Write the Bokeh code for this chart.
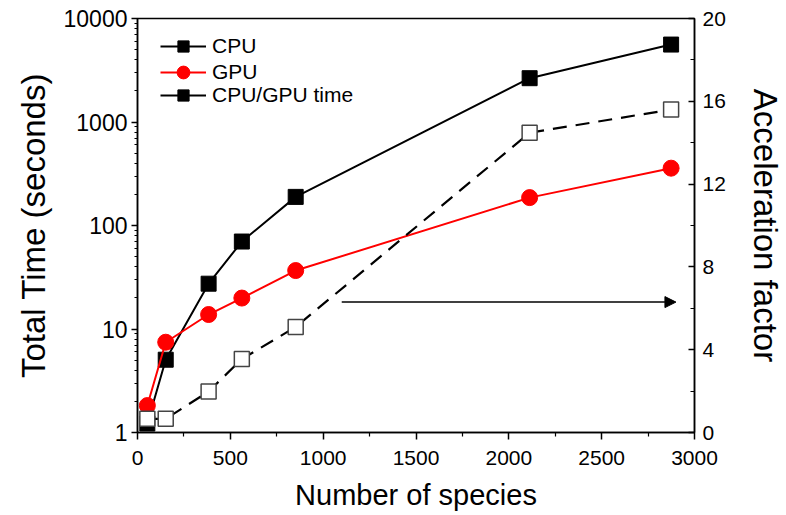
from bokeh.plotting import figure
from bokeh.models import (Range1d, LinearAxis, LinearScale, FixedTicker, Legend,
                          LegendItem, Arrow, NormalHead, ColumnDataSource)
from bokeh.embed import file_html
from bokeh.resources import INLINE

# ---- data ----
species = [53, 152, 383, 562, 852, 2112, 2874]
cpu_time = [1.22, 5.05, 27.4, 70, 189, 2650, 5600]
gpu_time = [1.82, 7.45, 13.8, 19.9, 36.7, 186, 358]
accel = [0.66, 0.66, 1.98, 3.55, 5.1, 14.48, 15.6]
arrow_x = [1100, 2900]
arrow_y = 6.3

series_labels = ["CPU", "GPU", "CPU/GPU time"]
x_ticks = [0, 500, 1000, 1500, 2000, 2500, 3000]
x_minor = [250, 750, 1250, 1750, 2250, 2750]
y_ticks = [1, 10, 100, 1000, 10000]
y_labels = ["1", "10", "100", "1000", "10000"]
r_ticks = [0, 4, 8, 12, 16, 20]
r_minor = [2, 6, 10, 14, 18]

FONT = "Liberation Sans"

p = figure(width=786, height=515, output_backend="svg", toolbar_location=None,
           y_axis_type="log", x_range=Range1d(0, 3000), y_range=Range1d(1, 10000),
           min_border_left=137, min_border_right=89, min_border_top=18,
           min_border_bottom=83)
p.extra_y_ranges = {"acc": Range1d(0, 20)}
p.extra_y_scales = {"acc": LinearScale()}
p.grid.visible = False
p.outline_line_color = "black"
p.outline_line_width = 1.5
p.background_fill_color = "white"
p.border_fill_color = "white"

y_minor = [m * 10 ** k for k in range(4) for m in range(2, 10)]

# x axis
xa = p.xaxis[0]
xa.ticker = FixedTicker(ticks=x_ticks, minor_ticks=x_minor)
xa.axis_label = "Number of species"

# left axis
ya = p.yaxis[0]
ya.ticker = FixedTicker(ticks=y_ticks, minor_ticks=y_minor)
ya.major_label_overrides = {t: l for t, l in zip(y_ticks, y_labels)}
ya.axis_label = "Total Time (seconds)"

# right axis
ra = LinearAxis(y_range_name="acc", axis_label="Acceleration factor",
                ticker=FixedTicker(ticks=r_ticks, minor_ticks=r_minor))
p.add_layout(ra, "right")

for ax in (xa, ya, ra):
    ax.axis_line_color = "black"
    ax.axis_line_width = 1.5
    ax.major_tick_line_color = "black"
    ax.minor_tick_line_color = "black"
    ax.major_tick_line_width = 1.5
    ax.minor_tick_line_width = 1.2
    ax.major_label_text_font = FONT
    ax.major_label_text_font_size = "21px"
    ax.major_label_text_color = "black"
    ax.axis_label_text_font = FONT
    ax.axis_label_text_font_size = "33px"
    ax.axis_label_text_font_style = "normal"
    ax.axis_label_text_color = "black"

xa.axis_label_text_font_size = "29px"
ya.major_label_text_font_size = "23px"

xa.major_tick_out = 7
xa.major_tick_in = 0
xa.minor_tick_out = 4
xa.minor_tick_in = 0
xa.axis_label_standoff = 11
xa.major_label_standoff = 11

ya.major_tick_out = 6
ya.major_tick_in = 0
ya.minor_tick_out = 3
ya.minor_tick_in = 0
ya.axis_label_standoff = 9
ya.major_label_standoff = 4

ra.major_tick_in = 6
ra.major_tick_out = 0
ra.minor_tick_in = 4
ra.minor_tick_out = 0
ra.axis_label_standoff = 18
ra.major_label_standoff = 8

src = ColumnDataSource(dict(x=species, cpu=cpu_time, gpu=gpu_time, acc=accel))

cpu_l = p.line("x", "cpu", source=src, line_color="black", line_width=2)
cpu_m = p.scatter("x", "cpu", source=src, marker="square", size=15,
                  fill_color="black", line_color="black")
gpu_l = p.line("x", "gpu", source=src, line_color="#ff0000", line_width=2)
gpu_m = p.scatter("x", "gpu", source=src, marker="circle", size=16,
                  fill_color="#ff0000", line_color="#ff0000")
acc_l = p.line("x", "acc", source=src, y_range_name="acc", line_color="black",
               line_width=2.2, line_dash="14 9")
acc_m = p.scatter("x", "acc", source=src, y_range_name="acc", marker="square",
                  size=15, fill_color="white", line_color="#444444", line_width=1.5)

# legend proxies (legend shows a solid line with filled square for ratio)
nan = float("nan")
proxy = ColumnDataSource(dict(x=[nan], y=[nan]))
leg_l = p.line("x", "y", source=proxy, line_color="black", line_width=2)
leg_m = p.scatter("x", "y", source=proxy, marker="square", size=15,
                  fill_color="black", line_color="black")

p.add_layout(Arrow(end=NormalHead(size=11, fill_color="black", line_color="black"),
                   x_start=arrow_x[0], y_start=arrow_y, x_end=arrow_x[1], y_end=arrow_y,
                   y_range_name="acc", line_color="black", line_width=1.5))

# one legend per row, so the glyphs can be larger than the row pitch
rows = [
    (series_labels[0], [cpu_l, cpu_m], 28, 372),
    (series_labels[1], [gpu_l, gpu_m], 32, 344),
    (series_labels[2], [leg_l, leg_m], 28, 323),
]
for label, rends, gh, vy in rows:
    lg = Legend(items=[LegendItem(label=label, renderers=rends)], location=(23, vy))
    lg.border_line_color = None
    lg.background_fill_alpha = 0
    lg.label_text_font = FONT
    lg.label_text_font_size = "21px"
    lg.label_text_color = "black"
    lg.glyph_width = 46
    lg.glyph_height = gh
    lg.label_height = gh
    lg.label_standoff = 6
    lg.margin = 0
    lg.padding = 0
    p.add_layout(lg)

open("out.html", "w").write(file_html(p, INLINE))
